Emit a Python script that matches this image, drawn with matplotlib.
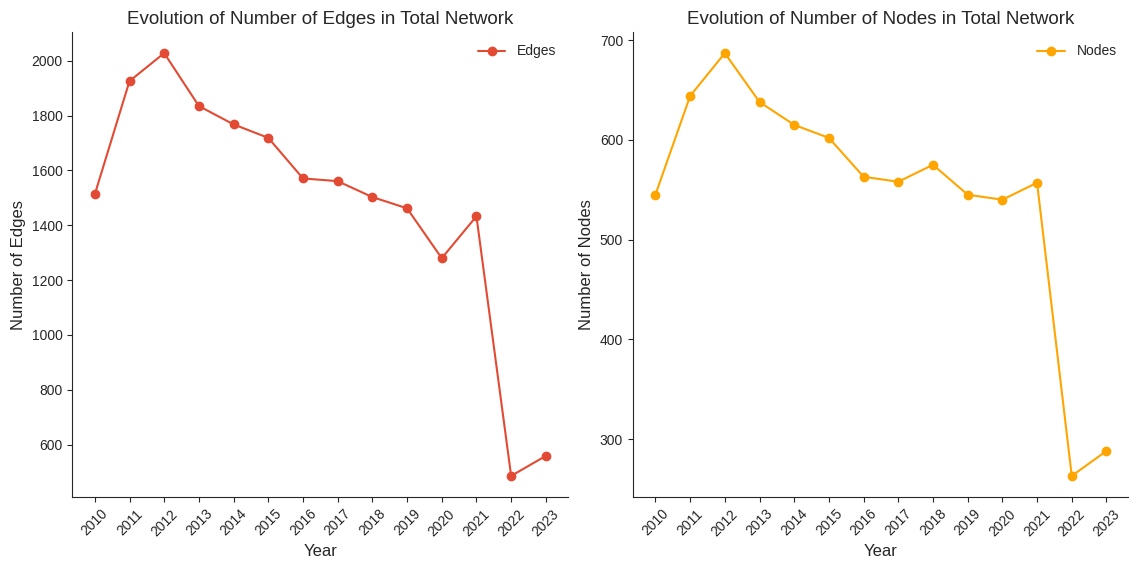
import matplotlib.pyplot as plt
import seaborn as sns

sns.set_style('ticks')
plt.rcParams['font.family'] = ['Liberation Sans', 'DejaVu Sans']

years = [2010, 2011, 2012, 2013, 2014, 2015, 2016, 2017, 2018, 2019, 2020, 2021, 2022, 2023]
edges = [1513, 1926, 2028, 1835, 1768, 1719, 1571, 1561, 1503, 1462, 1280, 1433, 486, 559]
nodes = [545, 644, 687, 638, 615, 602, 563, 558, 575, 545, 540, 557, 263, 288]

fig, axes = plt.subplots(1, 2, figsize=(11.29, 5.61), dpi=100)

# edges
ax = axes[0]
ax.plot(years, edges, marker='o', color='#E34A33', label='Edges')
ax.set_title('Evolution of Number of Edges in Total Network', fontsize=13.5)
ax.set_xlabel('Year', fontsize=12)
ax.set_ylabel('Number of Edges', fontsize=12)
ax.set_xticks(years)
ax.tick_params(axis='x', rotation=45)
ax.legend(loc='upper right', frameon=False)

# nodes
ax = axes[1]
ax.plot(years, nodes, marker='o', color='orange', label='Nodes')
ax.set_title('Evolution of Number of Nodes in Total Network', fontsize=13.5)
ax.set_xlabel('Year', fontsize=12)
ax.set_ylabel('Number of Nodes', fontsize=12)
ax.set_xticks(years)
ax.tick_params(axis='x', rotation=45)
ax.legend(loc='upper right', frameon=False)

sns.despine()
plt.subplots_adjust(left=0.064, right=1.0, top=0.943, bottom=0.114, wspace=0.13)
plt.savefig('out.png', dpi=100)
